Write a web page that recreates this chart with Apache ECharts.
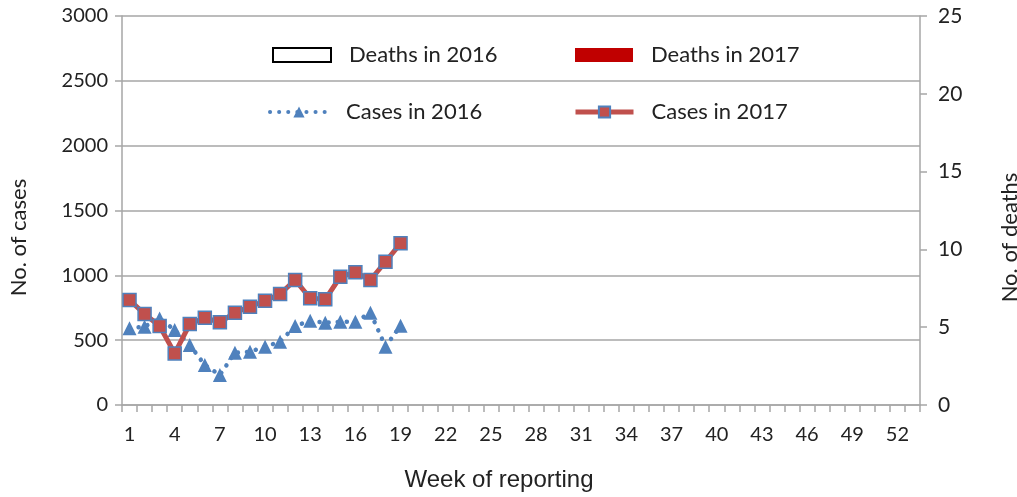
<!DOCTYPE html>
<html>
<head>
<meta charset="utf-8">
<script src="https://cdn.jsdelivr.net/npm/echarts@6/dist/echarts.min.js"></script>
<style>html,body{margin:0;padding:0;background:#fff;}#chart{width:1017px;height:497px;}</style>
</head>
<body>
<div id="chart"></div>
<script>
// ---- data ----
const weeks = [];
for (let w = 1; w <= 53; w++) weeks.push(String(w));
const cases2016 = [591, 604, 668, 578, 463, 308, 231, 403, 411, 450, 488, 609, 650, 635, 642, 642, 712, 450, 612];
const cases2017 = [810, 702, 609, 398, 624, 673, 638, 712, 758, 804, 856, 964, 823, 815, 989, 1023, 964, 1105, 1247];
const deaths2016 = [];
const deaths2017 = [];
const casesTicks = {min: 0, max: 3000, interval: 500};
const deathsTicks = {min: 0, max: 25, interval: 5};

const FONT = 'Lato';
const axisGrey = '#a6a6a6';
const blue = '#4f81bd';
const red = '#c0504d';
const chart = echarts.init(document.getElementById('chart'));

function legendAt(item, left, top) {
  return {
    show: true, left: left, top: top, orient: 'horizontal', padding: 0,
    data: [item], itemWidth: 58, itemHeight: 14, selectedMode: false,
    textStyle: {fontFamily: FONT, fontSize: 22, color: '#222', padding: [0, 0, 0, 13], lineHeight: 22}
  };
}

chart.setOption({
  backgroundColor: '#fff',
  animation: false,
  grid: {left: 122, right: 97, top: 16, bottom: 92, outerBoundsMode: 'none', containLabel: false},
  legend: [
    legendAt({name: 'Deaths in 2016', icon: 'rect'}, 272, 44),
    legendAt({name: 'Deaths in 2017', icon: 'rect'}, 575, 44),
    legendAt({name: 'Cases in 2016', lineStyle: {width: 4, type: [0.1, 9], cap: 'round', color: blue}}, 268, 101),
    legendAt({name: 'Cases in 2017', lineStyle: {width: 5, color: red}}, 573, 101)
  ],
  xAxis: {
    type: 'category', data: weeks, boundaryGap: true,
    name: 'Week of reporting', nameLocation: 'middle', nameGap: 63,
    nameTextStyle: {fontFamily: 'Liberation Sans', fontSize: 24, color: '#222', padding: [0, 44, 0, 0]},
    axisLine: {lineStyle: {color: axisGrey, width: 1.5}},
    axisTick: {show: true, interval: 0, length: 7, lineStyle: {color: axisGrey, width: 1.5}},
    axisLabel: {interval: 2, margin: 20, fontFamily: FONT, fontSize: 20, color: '#222'}
  },
  yAxis: [
    {
      type: 'value', min: casesTicks.min, max: casesTicks.max, interval: casesTicks.interval,
      name: 'No. of cases', nameLocation: 'middle', nameGap: 92,
      nameTextStyle: {fontFamily: FONT, fontSize: 22, color: '#222', padding: [0, 54, 0, 0]},
      axisLine: {show: true, lineStyle: {color: axisGrey, width: 1.5}},
      axisTick: {show: true, length: 7, lineStyle: {color: axisGrey, width: 1.5}},
      splitLine: {show: true, lineStyle: {color: axisGrey, width: 1.5}},
      axisLabel: {margin: 14, fontFamily: FONT, fontSize: 20, color: '#222', formatter: v => String(v)}
    },
    {
      type: 'value', min: deathsTicks.min, max: deathsTicks.max, interval: deathsTicks.interval,
      position: 'right',
      name: 'No. of deaths', nameLocation: 'middle', nameGap: 79,
      nameTextStyle: {fontFamily: FONT, fontSize: 22, color: '#222', padding: [0, 54, 0, 0]},
      axisLine: {show: true, lineStyle: {color: axisGrey, width: 1.5}},
      axisTick: {show: true, length: 7, lineStyle: {color: axisGrey, width: 1.5}},
      splitLine: {show: false},
      axisLabel: {margin: 18, fontFamily: FONT, fontSize: 21, color: '#222', formatter: v => String(v)}
    }
  ],
  series: [
    {
      name: 'Deaths in 2016', type: 'bar', yAxisIndex: 1, data: deaths2016,
      itemStyle: {color: '#ffffff', borderColor: '#000000', borderWidth: 1.5}
    },
    {
      name: 'Deaths in 2017', type: 'bar', yAxisIndex: 1, data: deaths2017,
      itemStyle: {color: '#c00000'}
    },
    {
      name: 'Cases in 2016', type: 'line', yAxisIndex: 0, data: cases2016,
      symbol: 'triangle', symbolSize: 14, showAllSymbol: true,
      itemStyle: {color: blue},
      lineStyle: {color: blue, width: 4.5, type: [0.1, 9], cap: 'round'},
      z: 3
    },
    {
      name: 'Cases in 2017', type: 'line', yAxisIndex: 0, data: cases2017,
      symbol: 'rect', symbolSize: 13, showAllSymbol: true,
      itemStyle: {color: red, borderColor: blue, borderWidth: 1.5},
      lineStyle: {color: red, width: 5},
      z: 4
    }
  ]
});
</script>
</body>
</html>
